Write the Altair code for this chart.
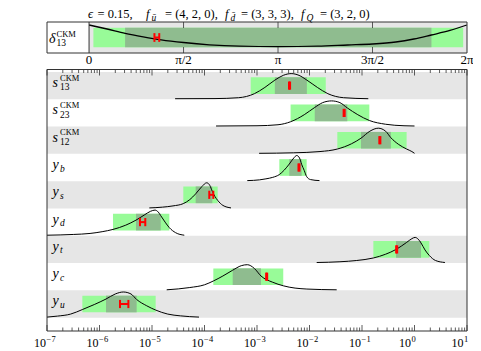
import altair as alt
import numpy as np
import pandas as pd

# ---------------- data (log10 of the values) ----------------
rows = ["s13", "s23", "s12", "y_b", "y_s", "y_d", "y_t", "y_c", "y_u"]  # top to bottom
main_sym = ["s", "s", "s", "y", "y", "y", "y", "y", "y"]
sub_sym = ["13", "23", "12", "b", "s", "d", "t", "c", "u"]
sup_sym = ["CKM", "CKM", "CKM", "", "", "", "", "", ""]

outer_lo = [-3.12, -2.36, -1.47, -2.575, -4.404, -5.743, -0.784, -3.832, -6.327]
outer_hi = [-1.69, -0.86, -0.15, -2.054, -3.749, -4.67, 0.282, -2.5, -4.93]
inner_lo = [-2.66, -1.90, -1.02, -2.385, -4.168, -5.305, -0.352, -3.463, -5.876]
inner_hi = [-2.05, -1.28, -0.45, -2.15, -3.851, -4.834, 0.124, -2.924, -5.292]
fit_lo = [-2.39, -1.35, -0.67, -2.21, -3.909, -5.229, -0.35, -2.826, -5.61]
fit_hi = [-2.37, -1.33, -0.65, -2.19, -3.832, -5.128, -0.33, -2.806, -5.45]

curve_x = {
    "s13": [-4.56, -3.8, -3.35, -3.05, -2.85, -2.66, -2.5, -2.35, -2.2, -2.05, -1.85, -1.65, -1.35, -0.88],
    "s23": [-3.78, -3.0, -2.6, -2.36, -2.1, -1.9, -1.75, -1.58, -1.42, -1.28, -1.08, -0.86, -0.55, -0.2, 0.0],
    "s12": [-2.96, -2.3, -1.8, -1.47, -1.2, -1.02, -0.85, -0.69, -0.55, -0.45, -0.3, -0.15, -0.05, 0.0],
    "y_b": [-3.185, -2.95, -2.83, -2.7, -2.575, -2.48, -2.385, -2.3, -2.244, -2.19, -2.15, -2.1, -2.054, -1.98, -1.81],
    "y_s": [-5.051, -4.8, -4.6, -4.404, -4.28, -4.168, -4.05, -3.958, -3.9, -3.851, -3.8, -3.749, -3.65, -3.495],
    "y_d": [-7.0, -6.5, -6.18, -5.95, -5.743, -5.5, -5.305, -5.15, -5.03, -4.943, -4.88, -4.834, -4.75, -4.67, -4.55, -4.385],
    "y_t": [-1.863, -1.42, -1.1, -0.784, -0.55, -0.352, -0.15, -0.05, 0.01, 0.07, 0.124, 0.2, 0.282, 0.4, 0.58],
    "y_c": [-4.72, -4.28, -4.0, -3.832, -3.65, -3.463, -3.3, -3.185, -3.05, -2.924, -2.7, -2.5, -2.05, -1.482],
    "y_u": [-7.0, -6.8, -6.55, -6.327, -6.1, -5.876, -5.7, -5.547, -5.4, -5.292, -5.1, -4.93, -4.7, -4.46, -4.105],
}
curve_d = {
    "s13": [0, 0.005, 0.04, 0.2, 0.45, 0.74, 0.93, 1.0, 0.93, 0.74, 0.45, 0.2, 0.04, 0],
    "s23": [0, 0.01, 0.05, 0.17, 0.45, 0.74, 0.93, 1.0, 0.93, 0.72, 0.45, 0.22, 0.07, 0.01, 0],
    "s12": [0, 0.02, 0.07, 0.17, 0.38, 0.6, 0.88, 1.0, 0.88, 0.62, 0.35, 0.17, 0.07, 0.0],
    "y_b": [0, 0.03, 0.07, 0.13, 0.24, 0.42, 0.66, 0.9, 1.0, 0.9, 0.65, 0.4, 0.16, 0.04, 0],
    "y_s": [0, 0.03, 0.08, 0.17, 0.33, 0.56, 0.85, 1.0, 0.9, 0.66, 0.45, 0.3, 0.1, 0],
    "y_d": [0, 0.03, 0.07, 0.14, 0.23, 0.4, 0.6, 0.8, 0.95, 1.0, 0.92, 0.78, 0.52, 0.3, 0.1, 0],
    "y_t": [0, 0.03, 0.08, 0.18, 0.33, 0.52, 0.8, 0.95, 1.0, 0.93, 0.78, 0.5, 0.28, 0.08, 0],
    "y_c": [0, 0.09, 0.2, 0.35, 0.55, 0.78, 0.96, 1.0, 0.85, 0.55, 0.3, 0.16, 0.03, 0],
    "y_u": [0, 0.04, 0.12, 0.3, 0.5, 0.72, 0.92, 1.0, 0.92, 0.7, 0.45, 0.28, 0.12, 0.05, 0],
}

# delta_13 panel (radians)
delta_outer = [0.072, 6.22]
delta_inner = [0.599, 5.692]
delta_fit = [1.087, 1.167]
delta_curve_x = [0, 0.3, 0.6, 0.9, 1.2, 1.57, 2.0, 2.5, 3.14, 3.8, 4.3, 4.71, 5.1, 5.4, 5.69, 6.0, 6.28]
delta_curve_d = [0.903, 0.774, 0.635, 0.523, 0.426, 0.339, 0.265, 0.219, 0.203, 0.219, 0.258, 0.290,
                 0.355, 0.452, 0.581, 0.726, 0.903]

angle_ticks = [np.pi / 2, np.pi, 3 * np.pi / 2]
angle_labels = ["0", "π/2", "π", "3π/2", "2π"]
angle_label_pos = [0, np.pi / 2, np.pi, 3 * np.pi / 2, 2 * np.pi]

decades = [-7, -6, -5, -4, -3, -2, -1, 0, 1]
exponents = ["−7", "−6", "−5", "−4", "−3", "−2", "−1", "0", "1"]
minor_mult = [2, 3, 4, 5, 6, 7, 8, 9]

title_parts = [
    ("ϵ", 88, "it", 12.5), ("= 0.15,", 97.5, "rm", 12.5),
    ("f", 146, "it", 12.5), ("ū", 151.5, "sub", 9.5), ("= (4, 2, 0),", 165, "rm", 12.5),
    ("f", 225, "it", 12.5), ("d̄", 230.5, "sub", 9.5), ("= (3, 3, 3),", 241, "rm", 12.5),
    ("f", 301, "it", 12.5), ("Q", 306.5, "sub", 9.5), ("= (3, 2, 0)", 320, "rm", 12.5),
]

# ---------------- layout / style ----------------
FONT = "Liberation Serif"
GRAY = "#e6e6e6"
LIGHT = "#98fb98"
DARK = "#8fbc8f"
RED = "#ff0000"
FRAME = "#333333"
W, H = 420, 309
V_BOT, V_TOP = -0.489, 10.83
BOT_TOP = 9.09
TOP_BOT = 9.694
TC = (TOP_BOT + V_TOP) / 2

yscale = alt.Scale(domain=[V_BOT, V_TOP], nice=False, zero=False)
xlog = alt.Scale(type="log", domain=[1e-7, 10], nice=False)
xlin = alt.Scale(domain=[-0.699, 2 * np.pi], nice=False, zero=False)


def Y(f):
    return alt.Y(f, type="quantitative", scale=yscale, axis=None)


def XL(f):
    return alt.X(f, type="quantitative", scale=xlog, axis=None)


def XA(f):
    return alt.X(f, type="quantitative", scale=xlin, axis=None)


one = pd.DataFrame({"k": [0]})


def ptext(text, px, py, size=13, italic=False):
    return alt.Chart(one).mark_text(
        text=text, font=FONT, fontSize=size, fontStyle="italic" if italic else "normal",
        align="left", baseline="alphabetic", color="black"
    ).encode(x=alt.value(px), y=alt.value(py))


# ---------------- tables ----------------
n = len(rows)
rdf = pd.DataFrame({
    "row": rows, "r": [n - 1 - i for i in range(n)],
    "main": main_sym, "sub": sub_sym, "sup": sup_sym,
    "olo": 10 ** np.array(outer_lo), "ohi": 10 ** np.array(outer_hi),
    "ilo": 10 ** np.array(inner_lo), "ihi": 10 ** np.array(inner_hi),
    "flo": 10 ** np.array(fit_lo), "fhi": 10 ** np.array(fit_hi),
})
rdf["c"] = rdf.r + 0.5
rdf["r1"] = rdf.r + 1
rdf["b0"] = rdf.c - 0.305
rdf["b1"] = rdf.c + 0.305
rdf["e0"] = rdf.c - 0.15
rdf["e1"] = rdf.c + 0.15
rdf["xmin"] = 1e-7
rdf["xmax"] = 10.0
rdf["subnum"] = rdf["sub"].str.isdigit()

recs = []
for name, r in zip(rdf.row, rdf.r):
    for i, (lx, d) in enumerate(zip(curve_x[name], curve_d[name])):
        recs.append({"row": name, "i": i, "xv": 10 ** lx, "yv": r + 0.02 + 0.92 * d})
cdf = pd.DataFrame(recs)

frame_b = pd.DataFrame({"x0": [1e-7], "x1": [10.0], "y0": [V_BOT], "y1": [BOT_TOP]})
major = pd.DataFrame({"v": [10.0 ** e for e in decades], "base": "10", "ex": exponents})
major["short"] = major.ex.str.len() == 1
minor = pd.DataFrame({"v": [m * 10.0 ** e for e in decades[:-1] for m in minor_mult]})

# ---------------- bottom panel ----------------
bl = []
bl.append(alt.Chart(rdf).transform_filter("datum.r % 2 == 0").mark_rect(color=GRAY)
          .encode(x=XL("xmin"), x2="xmax", y=Y("r"), y2="r1"))
bl.append(alt.Chart(rdf).mark_rect(color=LIGHT).encode(x=XL("olo"), x2="ohi", y=Y("b0"), y2="b1"))
bl.append(alt.Chart(rdf).mark_rect(color=DARK).encode(x=XL("ilo"), x2="ihi", y=Y("b0"), y2="b1"))
bl.append(alt.Chart(cdf).mark_line(color="black", strokeWidth=1, interpolate="monotone")
          .encode(x=XL("xv"), y=Y("yv"), detail="row:N", order="i:Q"))
bl.append(alt.Chart(rdf).mark_rule(color=RED, strokeWidth=2).encode(x=XL("flo"), x2="fhi", y=Y("c")))
bl.append(alt.Chart(rdf).mark_rule(color=RED, strokeWidth=2).encode(x=XL("flo"), y=Y("e0"), y2="e1"))
bl.append(alt.Chart(rdf).mark_rule(color=RED, strokeWidth=2).encode(x=XL("fhi"), y=Y("e0"), y2="e1"))
bl.append(alt.Chart(frame_b).mark_rect(fillOpacity=0, stroke=FRAME, strokeWidth=1)
          .encode(x=XL("x0"), x2="x1", y=Y("y0"), y2="y1"))
# inward ticks (bottom and top edges)
bl.append(alt.Chart(major).mark_rule(color=FRAME, strokeWidth=0.8)
          .encode(x=XL("v"), y=alt.value(H), y2=alt.value(H - 6)))
bl.append(alt.Chart(minor).mark_rule(color=FRAME, strokeWidth=0.8)
          .encode(x=XL("v"), y=alt.value(H), y2=alt.value(H - 3.5)))
bl.append(alt.Chart(major).mark_rule(color=FRAME, strokeWidth=0.8)
          .encode(x=XL("v"), y=alt.value(47.5), y2=alt.value(53.5)))
bl.append(alt.Chart(minor).mark_rule(color=FRAME, strokeWidth=0.8)
          .encode(x=XL("v"), y=alt.value(47.5), y2=alt.value(51)))
# tick labels 10^e
for short, dxv in [(False, -1.0), (True, -3.5)]:
    sub = alt.Chart(major).transform_filter(f"datum.short == {str(short).lower()}")
    bl.append(sub.mark_text(font=FONT, fontSize=12, align="right", baseline="alphabetic", dx=dxv, color="black")
              .encode(x=XL("v"), y=alt.value(324.5), text="base:N"))
    bl.append(sub.mark_text(font=FONT, fontSize=8.5, align="left", baseline="alphabetic", dx=dxv + 0.6, color="black")
              .encode(x=XL("v"), y=alt.value(319.5), text="ex:N"))
# row labels
bl.append(alt.Chart(rdf).mark_text(font=FONT, fontSize=14, fontStyle="italic", align="left",
                                   baseline="alphabetic", dy=1.4, color="black")
          .encode(x=alt.value(5.5), y=Y("c"), text="main:N"))
bl.append(alt.Chart(rdf).transform_filter("datum.subnum").mark_text(
    font=FONT, fontSize=9.5, align="left", baseline="alphabetic", dy=4.6, color="black")
    .encode(x=alt.value(13), y=Y("c"), text="sub:N"))
bl.append(alt.Chart(rdf).transform_filter("!datum.subnum").mark_text(
    font=FONT, fontSize=9.5, fontStyle="italic", align="left", baseline="alphabetic", dy=4.0, color="black")
    .encode(x=alt.value(13), y=Y("c"), text="sub:N"))
bl.append(alt.Chart(rdf).transform_filter("datum.sup != ''").mark_text(
    font=FONT, fontSize=8.5, align="left", baseline="alphabetic", dy=-4.9, color="black")
    .encode(x=alt.value(13), y=Y("c"), text="sup:N"))
bottom = alt.layer(*bl)

# ---------------- top panel (delta_13) ----------------
tp = pd.DataFrame({
    "g0": [0.0], "g1": [2 * np.pi], "f0": [-0.699],
    "ylo": [TOP_BOT], "yhi": [V_TOP],
    "olo": [delta_outer[0]], "ohi": [delta_outer[1]],
    "ilo": [delta_inner[0]], "ihi": [delta_inner[1]],
    "flo": [delta_fit[0]], "fhi": [delta_fit[1]],
    "b0": [TC - 0.355], "b1": [TC + 0.355], "c": [TC], "e0": [TC - 0.16], "e1": [TC + 0.16],
})
tcurve = pd.DataFrame({"a": delta_curve_x,
                       "yv": [TOP_BOT + d * (V_TOP - TOP_BOT) for d in delta_curve_d]})
tticks = pd.DataFrame({"v": angle_ticks})
tlabels = pd.DataFrame({"v": angle_label_pos, "t": angle_labels})

tl = []
tl.append(alt.Chart(tp).mark_rect(color=GRAY).encode(x=XA("g0"), x2="g1", y=Y("ylo"), y2="yhi"))
tl.append(alt.Chart(tp).mark_rect(color=LIGHT).encode(x=XA("olo"), x2="ohi", y=Y("b0"), y2="b1"))
tl.append(alt.Chart(tp).mark_rect(color=DARK).encode(x=XA("ilo"), x2="ihi", y=Y("b0"), y2="b1"))
tl.append(alt.Chart(tcurve).mark_line(color="black", strokeWidth=1.3, interpolate="monotone")
          .encode(x=XA("a"), y=Y("yv")))
tl.append(alt.Chart(tp).mark_rule(color=RED, strokeWidth=2).encode(x=XA("flo"), x2="fhi", y=Y("c")))
tl.append(alt.Chart(tp).mark_rule(color=RED, strokeWidth=2).encode(x=XA("flo"), y=Y("e0"), y2="e1"))
tl.append(alt.Chart(tp).mark_rule(color=RED, strokeWidth=2).encode(x=XA("fhi"), y=Y("e0"), y2="e1"))
tl.append(alt.Chart(tp).mark_rule(color=FRAME, strokeWidth=1).encode(x=XA("g0"), y=Y("ylo"), y2="yhi"))
tl.append(alt.Chart(tp).mark_rect(fillOpacity=0, stroke=FRAME, strokeWidth=1)
          .encode(x=XA("f0"), x2="g1", y=Y("ylo"), y2="yhi"))
tl.append(alt.Chart(tticks).mark_rule(color=FRAME, strokeWidth=0.8)
          .encode(x=XA("v"), y=alt.value(0), y2=alt.value(6)))
tl.append(alt.Chart(tticks).mark_rule(color=FRAME, strokeWidth=0.8)
          .encode(x=XA("v"), y=alt.value(31), y2=alt.value(25)))
tl.append(alt.Chart(tlabels).mark_text(font=FONT, fontSize=13, align="center", baseline="alphabetic", color="black")
          .encode(x=XA("v"), y=alt.value(42), text="t:N"))
top = alt.layer(*tl)

# ---------------- free text (title, delta label) ----------------
fl = []
for txt, px, kind, size in title_parts:
    py = -3.8 + (3.0 if kind == "sub" else 0)
    fl.append(ptext(txt, px - 47, py, size, italic=(kind in ("it", "sub"))))
fl.append(ptext("δ", 2, 20.5, 14, italic=True))
fl.append(ptext("CKM", 9.5, 14.8, 8.5))
fl.append(ptext("13", 9.5, 24.4, 9.5))
free = alt.layer(*fl)

chart = (
    alt.layer(bottom, top, free)
    .resolve_scale(x="independent")
    .properties(width=W, height=H,
                padding={"left": 39, "top": 14, "right": 6, "bottom": 20},
                autosize=alt.AutoSizeParams(type="none"))
    .configure_view(stroke=None)
)

chart.save("out.html", embed_options={"renderer": "svg", "actions": False})
